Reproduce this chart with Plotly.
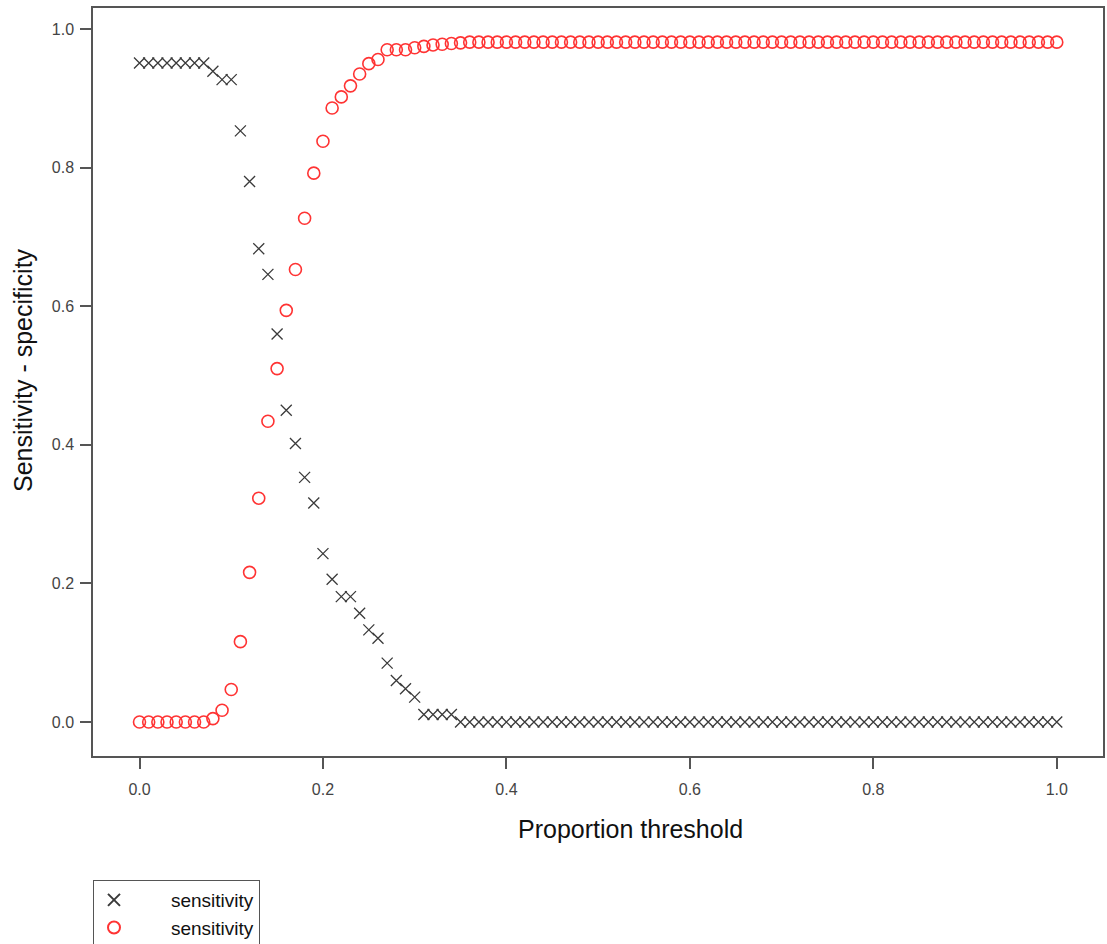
import plotly.graph_objects as go

# Threshold categories (0.00 .. 1.00, step 0.01)
thresholds = [round(i / 100, 2) for i in range(101)]

# Series drawn with "x" markers
sens_x = ([0.951] * 8 +
          [0.939, 0.927, 0.927, 0.853, 0.780, 0.683, 0.646, 0.560, 0.450, 0.402,
           0.353, 0.316, 0.243, 0.206, 0.181, 0.181, 0.157, 0.133, 0.121, 0.085,
           0.060, 0.048, 0.036] +
          [0.011] * 4 +
          [0.0] * 66)

# Series drawn with open red circles
sens_o = ([0.0] * 8 +
          [0.005, 0.017, 0.047, 0.116, 0.216, 0.323, 0.434, 0.510, 0.594, 0.653,
           0.727, 0.792, 0.838, 0.886, 0.902, 0.918, 0.935, 0.950, 0.956, 0.970,
           0.970, 0.970, 0.973, 0.975, 0.977, 0.978, 0.979, 0.980] +
          [0.981] * 65)

x_ticks = [0.0, 0.2, 0.4, 0.6, 0.8, 1.0]
y_ticks = [0.0, 0.2, 0.4, 0.6, 0.8, 1.0]
tick_text = ["0.0", "0.2", "0.4", "0.6", "0.8", "1.0"]
series_names = ["sensitivity", "sensitivity"]

FONT = "Liberation Sans, Arial, Helvetica, sans-serif"
pad = "\u00a0" * 7

fig = go.Figure()
fig.add_trace(go.Scatter(
    x=thresholds, y=sens_x, mode="markers", name=pad + series_names[0],
    marker=dict(symbol="x-thin-open", size=11, color="#3a3a3a",
                line=dict(color="#3a3a3a", width=1.3)),
))
fig.add_trace(go.Scatter(
    x=thresholds, y=sens_o, mode="markers", name=pad + series_names[1],
    marker=dict(symbol="circle-open", size=12, color="#ff3333",
                line=dict(color="#ff3333", width=1.6)),
))
fig.add_trace(go.Scatter(
    x=[None], y=[None], mode="markers", name="\u00a0",
    marker=dict(color="rgba(0,0,0,0)", size=1),
))

axis_common = dict(
    showgrid=False, zeroline=False, showline=True, mirror=True,
    linecolor="#555555", linewidth=1.5,
    ticks="outside", ticklen=11, tickwidth=1.5, tickcolor="#555555",
    tickfont=dict(family=FONT, size=16, color="#444444"),
)

fig.update_xaxes(range=[-0.0507, 1.0504], tickvals=x_ticks, ticktext=tick_text,
                 ticklabelstandoff=7, **axis_common)
fig.update_yaxes(range=[-0.049, 1.0303], tickvals=y_ticks, ticktext=tick_text,
                 ticklabelstandoff=3, **axis_common)

fig.add_annotation(text="Proportion threshold", xref="paper", yref="paper",
                   x=0.5317, y=-0.0976, xanchor="center", yanchor="middle",
                   showarrow=False, font=dict(family=FONT, size=25, color="#111111"))
fig.add_annotation(text="Sensitivity - specificity", xref="paper", yref="paper",
                   x=-0.0693, y=0.516, xanchor="center", yanchor="middle",
                   textangle=-90, showarrow=False,
                   font=dict(family=FONT, size=25, color="#111111"))

fig.update_layout(
    width=1107, height=944,
    margin=dict(l=93, r=4, t=8, b=188, autoexpand=False),
    plot_bgcolor="white", paper_bgcolor="white",
    showlegend=True,
    legend=dict(x=0, y=-0.1658, xanchor="left", yanchor="top",
                bordercolor="#555555", borderwidth=1, bgcolor="white",
                font=dict(family=FONT, size=19, color="#111111"),
                tracegroupgap=0, itemsizing="constant"),
)

fig.write_html("out.html")
